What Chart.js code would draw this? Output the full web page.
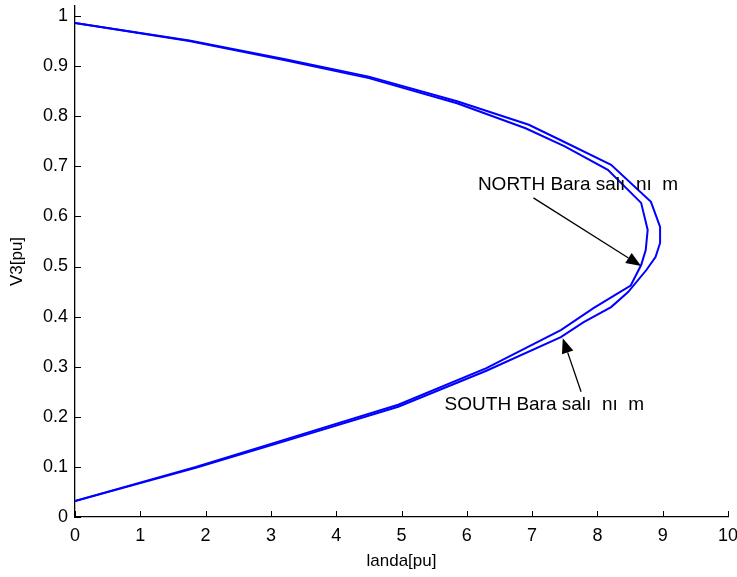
<!DOCTYPE html>
<html><head><meta charset="utf-8">
<style>html,body{margin:0;padding:0;background:#fff;}#wrap{width:737px;height:577px;}</style>
<script src="https://cdn.jsdelivr.net/npm/chart.js@4"></script>
</head><body><div id="wrap"><canvas id="c" width="737" height="577"></canvas></div>
<script>
// ---- data ----
const northLanda = [0, 1.75, 3.2, 4.5, 5.85, 6.9, 7.5, 8.16, 8.67, 8.77, 8.74, 8.67, 8.51, 8.28, 7.94, 7.44, 6.3, 4.95, 3.1, 1.85, 0];
const northV     = [0.986, 0.950, 0.912, 0.876, 0.826, 0.776, 0.740, 0.693, 0.627, 0.573, 0.533, 0.503, 0.462, 0.444, 0.417, 0.373, 0.297, 0.224, 0.150, 0.100, 0.032];
const southLanda = [0, 1.75, 3.2, 4.5, 5.85, 6.95, 7.44, 8.21, 8.82, 8.96, 8.96, 8.89, 8.75, 8.47, 8.21, 7.79, 7.44, 6.3, 4.95, 3.1, 1.85, 0];
const southV     = [0.986, 0.951, 0.914, 0.879, 0.830, 0.783, 0.752, 0.703, 0.629, 0.579, 0.547, 0.519, 0.493, 0.449, 0.419, 0.389, 0.359, 0.292, 0.220, 0.147, 0.098, 0.032];
const xTicks = [0, 1, 2, 3, 4, 5, 6, 7, 8, 9, 10];
const yTicks = [0, 0.1, 0.2, 0.3, 0.4, 0.5, 0.6, 0.7, 0.8, 0.9, 1];
const xTitle = 'landa[pu]';
const yTitle = 'V3[pu]';
const northLabel = 'NORTH Bara salı  nı  m';
const southLabel = 'SOUTH Bara salı  nı  m';

// annotation placement (data units)
const annotations = [
  {text: northLabel, tx: 6.17, ty: 0.663, fx: 7.02, fy: 0.637, ax: 8.67, ay: 0.501},
  {text: southLabel, tx: 5.66, ty: 0.224, fx: 7.75, fy: 0.250, ax: 7.47, ay: 0.357}
];

const FONT = '"Liberation Sans", Arial, Helvetica, sans-serif';
Chart.defaults.font.family = FONT;
Chart.defaults.font.size = 18;
Chart.defaults.color = '#000';

const toPts = (xs, ys) => xs.map((x, i) => ({x: x, y: ys[i]}));

const innerTicks = {
  id: 'innerTicks',
  afterDatasetsDraw(chart) {
    const ctx = chart.ctx, xs = chart.scales.x, ys = chart.scales.y;
    const L = 6;
    ctx.save();
    ctx.strokeStyle = '#000';
    ctx.lineWidth = 1;
    ctx.beginPath();
    xTicks.forEach(v => {
      const p = Math.round(xs.getPixelForValue(v)) + 0.5;
      ctx.moveTo(p, ys.bottom); ctx.lineTo(p, ys.bottom - L);
    });
    yTicks.forEach(v => {
      const p = Math.round(ys.getPixelForValue(v)) + 0.5;
      ctx.moveTo(xs.left, p); ctx.lineTo(xs.left + L, p);
    });
    ctx.stroke();
    ctx.restore();
  }
};

const arrows = {
  id: 'arrows',
  afterDatasetsDraw(chart) {
    const ctx = chart.ctx, xs = chart.scales.x, ys = chart.scales.y;
    ctx.save();
    annotations.forEach(a => {
      const tx = xs.getPixelForValue(a.tx), ty = ys.getPixelForValue(a.ty);
      const fx = xs.getPixelForValue(a.fx), fy = ys.getPixelForValue(a.fy);
      const ax = xs.getPixelForValue(a.ax), ay = ys.getPixelForValue(a.ay);
      ctx.font = '19px ' + FONT;
      ctx.fillStyle = '#000';
      ctx.textAlign = 'left';
      ctx.textBaseline = 'middle';
      ctx.fillText(a.text, tx, ty);
      const ang = Math.atan2(ay - fy, ax - fx);
      const hl = 15, hw = 6;
      const bx = ax - hl * Math.cos(ang), by = ay - hl * Math.sin(ang);
      ctx.strokeStyle = '#000';
      ctx.lineWidth = 1.3;
      ctx.beginPath(); ctx.moveTo(fx, fy); ctx.lineTo(bx, by); ctx.stroke();
      ctx.beginPath();
      ctx.moveTo(ax, ay);
      ctx.lineTo(bx + hw * Math.sin(ang), by - hw * Math.cos(ang));
      ctx.lineTo(bx - hw * Math.sin(ang), by + hw * Math.cos(ang));
      ctx.closePath();
      ctx.fill();
    });
    ctx.restore();
  }
};

new Chart(document.getElementById('c'), {
  type: 'scatter',
  data: {
    datasets: [
      {label: 'NORTH', data: toPts(northLanda, northV), showLine: true, borderColor: '#0000ff', borderWidth: 2, pointRadius: 0, tension: 0, fill: false},
      {label: 'SOUTH', data: toPts(southLanda, southV), showLine: true, borderColor: '#0000ff', borderWidth: 2, pointRadius: 0, tension: 0, fill: false}
    ]
  },
  options: {
    responsive: false,
    animation: false,
    devicePixelRatio: 1,
    layout: {padding: {top: 6, right: 9, left: 0, bottom: 0}},
    plugins: {legend: {display: false}, tooltip: {enabled: false}},
    scales: {
      x: {
        type: 'linear', min: 0, max: 10,
        afterBuildTicks: s => { s.ticks = xTicks.map(v => ({value: v})); },
        afterFit: s => { s.height = 60; s.paddingLeft = 0; s.paddingRight = 0; },
        grid: {display: true, drawOnChartArea: false, drawTicks: false},
        border: {display: true, color: '#000', width: 1.3},
        ticks: {padding: 8, maxRotation: 0, font: {size: 18}, callback: v => String(v)},
        title: {display: true, text: xTitle, font: {size: 17}, padding: {top: 0, bottom: 5}}
      },
      y: {
        type: 'linear', min: 0, max: 1.02,
        afterBuildTicks: s => { s.ticks = yTicks.map(v => ({value: v})); },
        afterFit: s => { s.width = 75; s.paddingTop = 0; s.paddingBottom = 0; },
        grid: {display: true, drawOnChartArea: false, drawTicks: false},
        border: {display: true, color: '#000', width: 1.3},
        ticks: {padding: 7, font: {size: 18}, callback: v => String(+v.toFixed(1))},
        title: {display: true, text: yTitle, font: {size: 17}, padding: {top: 7, bottom: 0}}
      }
    }
  },
  plugins: [innerTicks, arrows]
});
</script>
</body></html>
